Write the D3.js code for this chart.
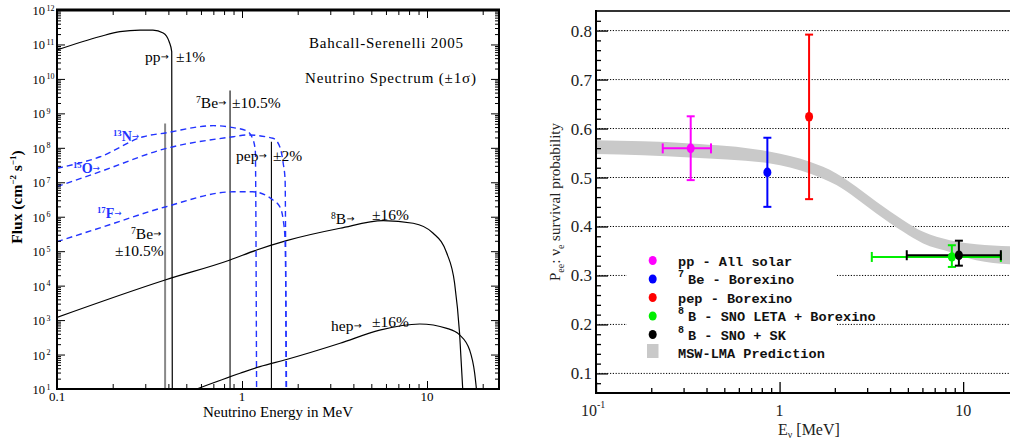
<!DOCTYPE html>
<html><head><meta charset="utf-8">
<script src="https://cdn.jsdelivr.net/npm/d3@7"></script>
<style>
body{margin:0;background:#fff;}
svg{display:block;font-family:"Liberation Serif","Times New Roman",serif;}
</style>
</head><body><svg id="c" width="1010" height="442"></svg>
<script>
// ================= LEFT PANEL DATA (E in MeV, flux in cm^-2 s^-1) =================
const ppE  = [0.1, 0.171, 0.219, 0.281, 0.33, 0.375, 0.404, 0.417, 0.42];
const ppF  = [6.9e10, 1.7e11, 2.35e11, 2.6e11, 2.6e11, 2.15e11, 1.2e11, 6.2e10, 10];
const n13E = [0.1, 0.171, 0.293, 0.392, 0.70, 0.897, 1.06, 1.13, 1.18, 1.199];
const n13F = [2.55e7, 5.5e7, 2.1e8, 2.75e8, 4.4e8, 3.85e8, 3.1e8, 2.1e8, 8.6e7, 10];
const o15E = [0.1, 0.171, 0.392, 0.897, 1.06, 1.47, 1.6, 1.67, 1.71, 1.732];
const o15F = [7.45e6, 2.03e7, 9.7e7, 2.1e8, 2.36e8, 1.9e8, 1.08e8, 3.56e7, 1.17e7, 10];
const f17E = [0.1, 0.171, 0.384, 0.897, 1.14, 1.47, 1.6, 1.67, 1.71, 1.74];
const f17F = [1.89e5, 4.75e5, 1.92e6, 5.3e6, 5.3e6, 3.06e6, 1.96e6, 8.05e5, 2.1e5, 10];
const b8E  = [0.1, 0.384, 0.862, 1.2, 1.74, 3.39, 5.8, 8.42, 10.8, 12.8, 14.1, 15.0, 15.6];
const b8F  = [1.2e3, 1.46e4, 5.56e4, 1.08e5, 2.02e5, 4.62e5, 7.67e5, 6.46e5, 3.31e5, 8.7e4, 1.17e4, 417, 10];
const hepE = [0.569, 0.976, 1.25, 1.74, 3.39, 5.55, 9.14, 12.8, 15.0, 17.0, 18.1, 18.5];
const hepF = [10, 28.6, 44.7, 71.8, 212, 513, 771, 575, 372, 135, 28.6, 10];
const lineE   = [0.384, 0.862, 1.442];      // 7Be, 7Be, pep lines
const lineTop = [5.1e8, 4.6e9, 1.5e8];
const leftXTicks = [0.1, 1, 10];
const leftXTickLabels = ["0.1", "1", "10"];
const leftYExps = [1,2,3,4,5,6,7,8,9,10,11,12];

// ================= RIGHT PANEL DATA =================
const ptE    = [0.328, 0.858, 1.448, 8.68, 9.48];
const ptP    = [0.5595, 0.5104, 0.6241, 0.3378, 0.3413];
const ptPlo  = [0.4947, 0.4401, 0.4558, 0.3174, 0.320];
const ptPhi  = [0.625, 0.5812, 0.7918, 0.3617, 0.371];
const ptElo  = [0.231, null, null, 3.18, 4.93];
const ptEhi  = [0.423, null, null, 16.05, 16.05];
const bandE  = [0.1, 0.325, 0.89, 1.46, 2.04, 2.62, 3.37, 4.72, 6.06, 8.47, 11.8, 18.0];
const bandLo = [0.5479, 0.5411, 0.5288, 0.5084, 0.4845, 0.4573, 0.4266, 0.3890, 0.3652, 0.3481, 0.331, 0.3229];
const bandHi = [0.5759, 0.5697, 0.5526, 0.5321, 0.5084, 0.481, 0.4503, 0.4129, 0.3890, 0.372, 0.3638, 0.3597];
const rightYTicks = [0.1,0.2,0.3,0.4,0.5,0.6,0.7,0.8];
const rightYTickLabels = ["0.1","0.2","0.3","0.4","0.5","0.6","0.7","0.8"];
const rightXTicks = [0.1, 1, 10];

// styles
const ptColors = ["#ff00ff", "#0000ff", "#ff0000", "#00ee00", "#000000"];
const blue = "#2233ff";

const svg = d3.select("#c");
svg.append("rect").attr("width",1010).attr("height",442).attr("fill","#fff");

// ================= LEFT PANEL =================
const xL = d3.scaleLog().domain([0.1, 24.5]).range([57, 499]);
const yL = d3.scaleLog().domain([10, 1e12]).range([389, 10]);
const L = svg.append("g");
svg.append("clipPath").attr("id","clipL").append("rect")
  .attr("x",57).attr("y",10).attr("width",442).attr("height",379);

const lineGen = (E, F) => d3.line().x((d,i)=>xL(E[i])).y((d,i)=>yL(F[i])).curve(d3.curveMonotoneX)(E);
const curves = L.append("g").attr("clip-path","url(#clipL)");
lineE.forEach((e,i)=>{
  curves.append("line").attr("x1",xL(e)).attr("x2",xL(e)).attr("y1",yL(10)).attr("y2",yL(lineTop[i]))
    .attr("stroke", i===0 ? "#888" : (i===1 ? "#555" : "#000"))
    .attr("stroke-width", i===0 ? 2 : (i===1 ? 1.6 : 1.1));
});
[[ppE,ppF],[b8E,b8F],[hepE,hepF]].forEach(([E,F])=>{
  curves.append("path").attr("d",lineGen(E,F)).attr("fill","none").attr("stroke","#000").attr("stroke-width",1.2);
});
[[n13E,n13F],[o15E,o15F],[f17E,f17F]].forEach(([E,F])=>{
  curves.append("path").attr("d",lineGen(E,F)).attr("fill","none").attr("stroke",blue)
    .attr("stroke-width",1.4).attr("stroke-dasharray","6,4");
});

// axes (ticks inward)
const xMinorL = [], yMinorL = [];
[0.1,1,10].forEach(d=>{for(let k=2;k<=9;k++){const v=k*d; if(v<24.5) xMinorL.push(v);}});
for(let e=1;e<12;e++) for(let k=2;k<=9;k++) yMinorL.push(k*Math.pow(10,e));
const yMajorL = leftYExps.map(e=>Math.pow(10,e));
function tickAxis(g, axis){ g.call(axis); g.select(".domain").remove(); g.selectAll(".tick line").attr("stroke","#000"); }
tickAxis(L.append("g").attr("transform","translate(0,389)"), d3.axisBottom(xL).tickValues(xMinorL).tickSize(-5).tickFormat(""));
tickAxis(L.append("g").attr("transform","translate(0,389)"), d3.axisBottom(xL).tickValues(leftXTicks).tickSize(-8).tickFormat(""));
tickAxis(L.append("g").attr("transform","translate(0,10)"), d3.axisTop(xL).tickValues(xMinorL).tickSize(-5).tickFormat(""));
tickAxis(L.append("g").attr("transform","translate(0,10)"), d3.axisTop(xL).tickValues(leftXTicks).tickSize(-8).tickFormat(""));
tickAxis(L.append("g").attr("transform","translate(57,0)"), d3.axisLeft(yL).tickValues(yMinorL).tickSize(-4).tickFormat(""));
tickAxis(L.append("g").attr("transform","translate(57,0)"), d3.axisLeft(yL).tickValues(yMajorL).tickSize(-8).tickFormat(""));
tickAxis(L.append("g").attr("transform","translate(499,0)"), d3.axisRight(yL).tickValues(yMinorL).tickSize(-4).tickFormat(""));
tickAxis(L.append("g").attr("transform","translate(499,0)"), d3.axisRight(yL).tickValues(yMajorL).tickSize(-8).tickFormat(""));
L.append("line").attr("x1",56).attr("x2",500).attr("y1",10).attr("y2",10).attr("stroke","#000").attr("stroke-width",3);
L.append("line").attr("x1",56).attr("x2",500).attr("y1",389).attr("y2",389).attr("stroke","#000").attr("stroke-width",2);
L.append("line").attr("x1",57).attr("x2",57).attr("y1",9).attr("y2",390).attr("stroke","#000").attr("stroke-width",2);
L.append("line").attr("x1",499).attr("x2",499).attr("y1",9).attr("y2",390).attr("stroke","#000").attr("stroke-width",2);

// tick labels
leftXTicks.forEach((v,i)=>{
  L.append("text").attr("x",xL(v)).attr("y",401).attr("text-anchor","middle").attr("font-size",13).text(leftXTickLabels[i]);
});
leftYExps.forEach(e=>{
  const y = yL(Math.pow(10,e));
  L.append("text").attr("x",45).attr("y",y+5).attr("text-anchor","end").attr("font-size",12.5).text("10");
  L.append("text").attr("x",46.5).attr("y",y+0.5).attr("font-size",8).text(String(e));
});
L.append("text").attr("x",278).attr("y",417).attr("text-anchor","middle").attr("font-size",15).text("Neutrino Energy in MeV");
const yt = L.append("text").attr("transform","translate(22,197) rotate(-90)").attr("text-anchor","middle")
  .attr("font-size",15.5).attr("font-weight","bold");
yt.append("tspan").text("Flux (cm");
yt.append("tspan").attr("font-size",9).attr("dy",-6).text("−2");
yt.append("tspan").attr("dy",6).text(" s");
yt.append("tspan").attr("font-size",9).attr("dy",-6).text("−1");
yt.append("tspan").attr("dy",6).text(")");

// titles
L.append("text").attr("x",309).attr("y",48).attr("font-size",15).attr("textLength",154).attr("lengthAdjust","spacing").text("Bahcall-Serenelli 2005");
L.append("text").attr("x",305).attr("y",83).attr("font-size",15).attr("textLength",171).attr("lengthAdjust","spacing").text("Neutrino Spectrum (±1σ)");

// annotations
function annot(x, y, sup, main, color, size, bold){
  const t = L.append("text").attr("x",x).attr("y",y).attr("font-size",size).attr("fill",color);
  if(bold) t.attr("font-weight","bold");
  if(sup) t.append("tspan").attr("font-size",size*0.62).attr("dy",-size*0.35).text(sup);
  t.append("tspan").attr("dy", sup ? size*0.35 : 0).text(main);
  t.append("tspan").attr("font-family","'DejaVu Sans',sans-serif").attr("font-weight","normal")
    .attr("font-size",size*0.62).attr("dy",-size*0.12).text("→");
  return t;
}
annot(145, 62, null, "pp", "#000", 15.5);
L.append("text").attr("x",176).attr("y",62).attr("font-size",15.5).text("±1%");
annot(196, 108, "7", "Be", "#000", 15.5);
L.append("text").attr("x",232).attr("y",108).attr("font-size",15.5).text("±10.5%");
annot(236, 161, null, "pep", "#000", 15.5);
L.append("text").attr("x",273).attr("y",161).attr("font-size",15.5).text("±2%");
annot(331, 224, "8", "B", "#000", 15.5);
L.append("text").attr("x",372).attr("y",220).attr("font-size",15.5).text("±16%");
annot(331, 331, null, "hep", "#000", 15.5);
L.append("text").attr("x",372).attr("y",327).attr("font-size",15.5).text("±16%");
annot(131, 239, "7", "Be", "#000", 15.5);
L.append("text").attr("x",115).attr("y",256).attr("font-size",15.5).text("±10.5%");
annot(113, 141, "13", "N", blue, 14, true);
annot(73, 173, "15", "O", blue, 14, true);
annot(97, 218, "17", "F", blue, 14, true);

// ================= RIGHT PANEL =================
const xR = d3.scaleLog().domain([0.1, 18]).range([596, 1010]);
const yR = d3.scaleLinear().domain([0.06, 0.84]).range([393, 11]);
const R = svg.append("g");
svg.append("clipPath").attr("id","clipR").append("rect").attr("x",596).attr("y",11).attr("width",414).attr("height",382);

rightYTicks.forEach(v=>{
  R.append("line").attr("x1",596).attr("x2",1010).attr("y1",yR(v)).attr("y2",yR(v))
    .attr("stroke","#000").attr("stroke-width",1).attr("stroke-dasharray","1.2,1.6");
});
const area = d3.area().x((d,i)=>xR(bandE[i])).y0((d,i)=>yR(bandLo[i])).y1((d,i)=>yR(bandHi[i])).curve(d3.curveMonotoneX);
R.append("path").attr("clip-path","url(#clipR)").attr("d",area(bandE)).attr("fill","#c9c9c9");

R.append("rect").attr("x",627).attr("y",240).attr("width",210).attr("height",124).attr("fill","#fff");

const order = [0,1,2,3,4];
const eb = R.append("g").attr("clip-path","url(#clipR)");
order.forEach(i=>{
  const c = ptColors[i], x = xR(ptE[i]);
  const g = eb.append("g").attr("stroke",c).attr("stroke-width",2).attr("fill","none");
  g.append("line").attr("x1",x).attr("x2",x).attr("y1",yR(ptPlo[i])).attr("y2",yR(ptPhi[i]));
  [ptPlo[i],ptPhi[i]].forEach(v=> g.append("line").attr("x1",x-4).attr("x2",x+4).attr("y1",yR(v)).attr("y2",yR(v)));
  if(ptElo[i]!==null){
    const y = yR(ptP[i]);
    g.append("line").attr("x1",xR(ptElo[i])).attr("x2",xR(ptEhi[i])).attr("y1",y).attr("y2",y);
    [ptElo[i],ptEhi[i]].forEach(v=> g.append("line").attr("x1",xR(v)).attr("x2",xR(v)).attr("y1",y-5).attr("y2",y+5));
  }
});
order.forEach(i=>{
  eb.append("ellipse").attr("cx",xR(ptE[i])).attr("cy",yR(ptP[i])).attr("rx",4).attr("ry",4.8).attr("fill",ptColors[i]);
});

const yMinorR = d3.range(0.08, 0.83, 0.02).filter(v=>Math.abs(v*10-Math.round(v*10))>0.01);
const xMinorR = [];
[0.1,1].forEach(d=>{for(let k=2;k<=9;k++) xMinorR.push(k*d);});
for(let k=2;k<=9;k++){ if(k*10<=18) xMinorR.push(k*10); }
tickAxis(R.append("g").attr("transform","translate(596,0)"), d3.axisLeft(yR).tickValues(yMinorR).tickSize(-5).tickFormat(""));
tickAxis(R.append("g").attr("transform","translate(596,0)"), d3.axisLeft(yR).tickValues(rightYTicks).tickSize(-12).tickFormat(""));
tickAxis(R.append("g").attr("transform","translate(0,393)"), d3.axisBottom(xR).tickValues(xMinorR).tickSize(-5).tickFormat(""));
tickAxis(R.append("g").attr("transform","translate(0,393)"), d3.axisBottom(xR).tickValues(rightXTicks).tickSize(-11).tickFormat(""));
R.selectAll(".tick line").attr("stroke-width",1.3);
R.append("line").attr("x1",596).attr("x2",1010).attr("y1",11).attr("y2",11).attr("stroke","#333").attr("stroke-width",2.2);
R.append("line").attr("x1",596).attr("x2",596).attr("y1",10).attr("y2",394).attr("stroke","#000").attr("stroke-width",2);
R.append("line").attr("x1",595).attr("x2",1010).attr("y1",393).attr("y2",393).attr("stroke","#000").attr("stroke-width",2);

rightYTicks.forEach((v,i)=>{
  R.append("text").attr("x",592).attr("y",yR(v)+6).attr("text-anchor","end").attr("font-size",17).attr("fill","#222").text(rightYTickLabels[i]);
});
R.append("text").attr("x",597).attr("y",416).attr("text-anchor","end").attr("font-size",16).attr("fill","#222").text("10");
R.append("text").attr("x",597).attr("y",408).attr("font-size",10).attr("fill","#222").text("-1");
R.append("text").attr("x",xR(1)).attr("y",416).attr("text-anchor","middle").attr("font-size",16).attr("fill","#222").text("1");
R.append("text").attr("x",xR(10)).attr("y",416).attr("text-anchor","middle").attr("font-size",16).attr("fill","#222").text("10");
const xt = R.append("text").attr("x",778).attr("y",435).attr("font-size",16).attr("fill","#222");
xt.append("tspan").text("E");
xt.append("tspan").attr("font-size",10).attr("dy",3).text("ν");
xt.append("tspan").attr("dy",-3).text(" [MeV]");
const yt2 = R.append("text").attr("transform","translate(560,202) rotate(-90)").attr("text-anchor","middle").attr("font-size",15).attr("fill","#222");
yt2.append("tspan").text("P");
yt2.append("tspan").attr("font-size",10).attr("dy",4).text("ee");
yt2.append("tspan").attr("dy",-4).text(":  ν");
yt2.append("tspan").attr("font-size",10).attr("dy",4).text("e");
yt2.append("tspan").attr("dy",-4).text(" survival probability");

const legSup  = [null, "7", null, "8", "8", null];
const legText = ["pp - All solar", "Be - Borexino", "pep - Borexino", "B - SNO LETA + Borexino", "B - SNO + SK", "MSW-LMA Prediction"];
legText.forEach((t,i)=>{
  const y = 265.5 + i*18.5;
  if(i<5){
    R.append("ellipse").attr("cx",652.7).attr("cy",y-5).attr("rx",4).attr("ry",4.5).attr("fill",ptColors[i]);
  } else {
    R.append("rect").attr("x",647).attr("y",y-14).attr("width",11.5).attr("height",14).attr("fill","#c9c9c9");
  }
  const tx = R.append("text").attr("x",678).attr("y",y).attr("font-family","'Liberation Mono','Courier New',monospace")
    .attr("font-weight","bold").attr("font-size",13.6).attr("fill","#111");
  if(legSup[i]){
    tx.append("tspan").attr("font-size",10).attr("dy",-7).text(legSup[i]);
    tx.append("tspan").attr("x",688).attr("dy",7).text(t);
  } else tx.text(t);
});
</script>
</body></html>
